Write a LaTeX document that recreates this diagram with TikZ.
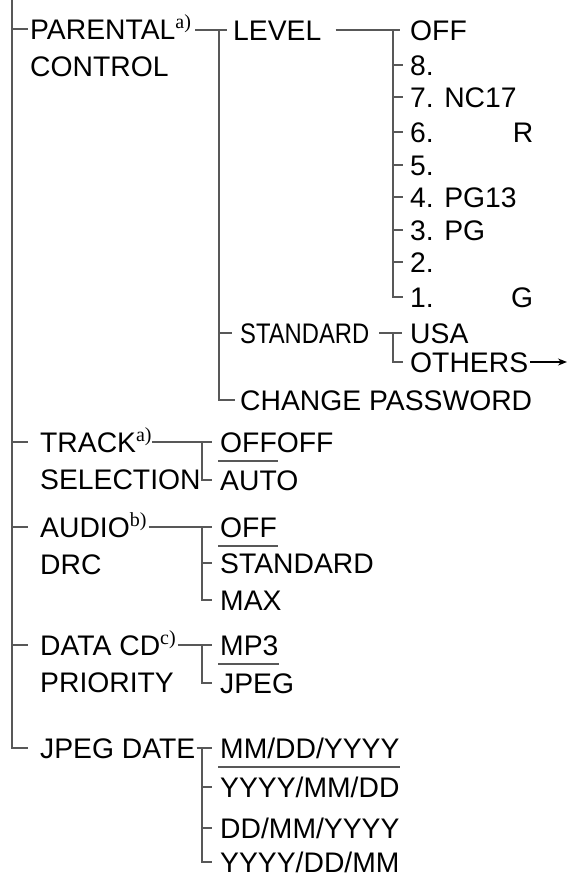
\documentclass[tikz,border=0pt]{standalone}
\usepackage{fontspec}
\setmainfont{Liberation Sans}
\newfontfamily\notefont{Liberation Serif}
\usetikzlibrary{arrows.meta}

\definecolor{linegray}{RGB}{88,88,88}
\newcommand\menufont{\fontsize{28.3}{37}\selectfont}
\newcommand\note[1]{\raisebox{11pt}{\notefont\fontsize{20}{20}\selectfont #1}}
\newsavebox\dfltbox
\newcommand\dflt[1]{\sbox\dfltbox{#1}\rlap{\kern-2pt\textcolor{linegray}{\rule[-9.5pt]{\dimexpr\wd\dfltbox+3pt\relax}{1.6pt}}}\usebox\dfltbox}
\newcommand\narrow[1]{\scalebox{0.84}[1]{#1}}

\tikzset{
  wire/.style={draw=linegray, line width=1.6pt},
  menu/.style={anchor=base west, inner sep=0pt, align=left, font=\menufont},
  item/.style={anchor=west, inner sep=0pt, text height=20pt, text depth=0pt, font=\menufont},
}

\begin{document}
\begin{tikzpicture}[x=1pt, y=-1pt]
  \useasboundingbox (0,0) rectangle (570,879);

  % first level (base is the last line)
  \node[menu] (pc) at (30,76) {PARENTAL\note{a)}\\CONTROL};
  \node[menu] (ts) at (40,489) {TRACK\note{a)}\\SELECTION};
  \node[menu] (ad) at (40,574) {AUDIO\note{b)}\\DRC};
  \node[menu] (dp) at (40,692) {DATA CD\note{c)}\\PRIORITY};
  \node[menu] (jd) at (40,758) {JPEG DATE};
  \coordinate (trunk) at (12,0);
  \foreach \n/\g/\s in {pc/2pt/47pt, ts/12pt/47pt, ad/12pt/47pt, dp/12pt/47pt, jd/12pt/10pt}
    \draw[wire] (trunk) |- ([xshift=-\g, yshift=\s]\n.base west);

  % parental control
  \node[item] (lv) at (233,30) {LEVEL};
  \node[item] (st) at (240,333) {\narrow{STANDARD}};
  \node[item] (cp) at (240,400) {CHANGE PASSWORD};
  \coordinate (pcbus) at (219,30);
  \draw[wire] ([xshift=4pt]pc.east |- pcbus) -- ([xshift=-6pt]lv.west);
  \draw[wire] (pcbus) |- ([xshift=-8pt]st.west);
  \draw[wire] (pcbus) |- ([xshift=-5pt]cp.west);

  % level
  \node[item] (l0) at (410,30) {OFF};
  \node[item] (l8) at (410,65) {8.};
  \node[item] (l7) at (410,97) {7. NC17};
  \node[item] (l6) at (410,132) {\makebox[123pt][l]{6.\hfill R}};
  \node[item] (l5) at (410,165) {5.};
  \node[item] (l4) at (410,197) {4. PG13};
  \node[item] (l3) at (410,230) {3. PG};
  \node[item] (l2) at (410,262) {2.};
  \node[item] (l1) at (410,297) {\makebox[123pt][l]{1.\hfill G}};
  \coordinate (lvbus) at (393,30);
  \draw[wire] ([xshift=14pt]lv.east) -- ([xshift=-10pt]l0.west);
  \foreach \n in {l8,l7,l6,l5,l4,l3,l2,l1}
    \draw[wire] (lvbus) |- ([xshift=-7pt]\n.west);

  % standard
  \node[item] (usa) at (410,333) {USA};
  \node[item] (oth) at (410,362) {OTHERS};
  \coordinate (stbus) at (393,333);
  \coordinate (more) at (567,362);
  \draw[wire] ([xshift=10pt]st.east) -- ([xshift=-8pt]usa.west);
  \draw[wire] (stbus) |- ([xshift=-7pt]oth.west);
  \draw[line width=1.4pt, -{Stealth[length=9pt,width=7pt]}] ([xshift=2pt]oth.east) -- (more);

  % track selection
  \node[item] (t1) at (220,442) {\dflt{OFF}OFF};
  \node[item] (t2) at (220,480) {AUTO};
  \coordinate (tsout) at (152,442);
  \coordinate (tsbus) at (202,442);
  \draw[wire] (tsout) -- ([xshift=-8pt]t1.west);
  \draw[wire] (tsbus) |- ([xshift=-8pt]t2.west);

  % audio drc
  \node[item] (a1) at (220,527) {\dflt{OFF}};
  \node[item] (a2) at (220,563) {STANDARD};
  \node[item] (a3) at (220,600) {MAX};
  \coordinate (adbus) at (202,527);
  \draw[wire] ([xshift=2pt]ad.east |- adbus) -- ([xshift=-8pt]a1.west);
  \foreach \n in {a2,a3}
    \draw[wire] (adbus) |- ([xshift=-8pt]\n.west);

  % data cd priority
  \node[item] (d1) at (220,645) {\dflt{MP3}};
  \node[item] (d2) at (220,683) {JPEG};
  \coordinate (dpbus) at (202,645);
  \draw[wire] ([xshift=2pt]dp.east |- dpbus) -- ([xshift=-8pt]d1.west);
  \draw[wire] (dpbus) |- ([xshift=-8pt]d2.west);

  % jpeg date
  \node[item] (j1) at (220,748) {\dflt{MM/DD/YYYY}};
  \node[item] (j2) at (220,787) {YYYY/MM/DD};
  \node[item] (j3) at (220,828) {DD/MM/YYYY};
  \node[item] (j4) at (220,862) {YYYY/DD/MM};
  \coordinate (jdbus) at (202,748);
  \draw[wire] ([xshift=1pt]jd.east |- jdbus) -- ([xshift=-8pt]j1.west);
  \foreach \n in {j2,j3,j4}
    \draw[wire] (jdbus) |- ([xshift=-8pt]\n.west);
\end{tikzpicture}
\end{document}
